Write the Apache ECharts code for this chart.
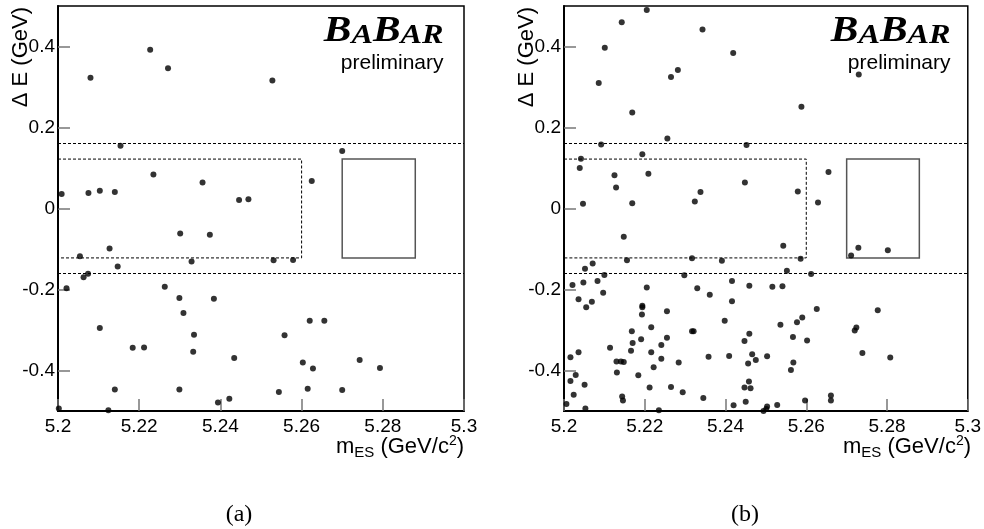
<!DOCTYPE html>
<html><head><meta charset="utf-8">
<script src="https://cdn.jsdelivr.net/npm/echarts@6/dist/echarts.min.js"></script>
<style>html,body{margin:0;padding:0;background:#fff;}#c{width:984px;height:529px;}</style>
</head><body><div id="c"></div>
<script>
// ---- Data ----
// Panel (a): mES [GeV/c^2] and Delta E [GeV]
const aMes = [5.2227,5.2271,5.2080,5.2528,5.2154,5.2700,5.2009,5.2075,5.2103,5.2140,5.2235,5.2356,5.2446,5.2469,5.2625,5.2301,5.2374,5.2127,5.2054,5.2329,5.2531,5.2579,5.2147,5.2063,5.2074,5.2021,5.2263,5.2299,5.2384,5.2309,5.2620,5.2656,5.2103,5.2335,5.2558,5.2184,5.2212,5.2333,5.2434,5.2603,5.2628,5.2743,5.2793,5.2140,5.2299,5.2394,5.2422,5.2002,5.2124,5.2544,5.2615,5.2700];
const aDE  = [0.392,0.346,0.323,0.316,0.155,0.142,0.036,0.038,0.044,0.041,0.084,0.064,0.021,0.023,0.068,-0.062,-0.065,-0.099,-0.118,-0.131,-0.128,-0.127,-0.143,-0.170,-0.161,-0.197,-0.193,-0.221,-0.223,-0.258,-0.277,-0.277,-0.295,-0.312,-0.313,-0.344,-0.343,-0.354,-0.369,-0.380,-0.395,-0.374,-0.394,-0.447,-0.447,-0.479,-0.470,-0.494,-0.498,-0.453,-0.445,-0.448];
// Panel (b)
const bMes = [5.2205,5.2143,5.2343,5.2101,5.2419,5.2086,5.2265,5.2282,5.2730,5.2588,5.2169,5.2256,5.2092,5.2452,5.2194,5.2042,5.2039,5.2125,5.2209,5.2655,5.2129,5.2338,5.2448,5.2579,5.2047,5.2169,5.2324,5.2629,5.2148,5.2543,5.2729,5.2802,5.2711,5.2586,5.2156,5.2317,5.2391,5.2071,5.2052,5.2100,5.2298,5.2552,5.2612,5.2021,5.2048,5.2083,5.2416,5.2205,5.2330,5.2459,5.2516,5.2541,5.2361,5.2097,5.2036,5.2069,5.2055,5.2416,5.2194,5.2194,5.2193,5.2255,5.2626,5.2777,5.2398,5.2590,5.2577,5.2536,5.2724,5.2720,5.2216,5.2168,5.2317,5.2321,5.2459,5.2447,5.2567,5.2602,5.2255,5.2191,5.2170,5.2241,5.2114,5.2166,5.2036,5.2216,5.2016,5.2358,5.2409,5.2241,5.2739,5.2808,5.2466,5.2475,5.2456,5.2503,5.2568,5.2562,5.2130,5.2141,5.2148,5.2284,5.2222,5.2131,5.2029,5.2184,5.2016,5.2051,5.2212,5.2265,5.2294,5.2024,5.2144,5.2146,5.2345,5.2006,5.2053,5.2235,5.2420,5.2450,5.2447,5.2462,5.2458,5.2494,5.2503,5.2501,5.2528,5.2597,5.2661,5.2661];
const bDE  = [0.490,0.460,0.442,0.397,0.384,0.310,0.325,0.342,0.331,0.251,0.237,0.173,0.158,0.157,0.134,0.123,0.100,0.082,0.086,0.090,0.052,0.041,0.064,0.042,0.012,0.013,0.017,0.015,-0.070,-0.092,-0.097,-0.103,-0.116,-0.124,-0.128,-0.123,-0.129,-0.136,-0.149,-0.164,-0.165,-0.154,-0.162,-0.189,-0.183,-0.179,-0.179,-0.195,-0.197,-0.191,-0.193,-0.192,-0.213,-0.208,-0.224,-0.230,-0.244,-0.229,-0.240,-0.244,-0.262,-0.254,-0.248,-0.251,-0.277,-0.269,-0.281,-0.287,-0.294,-0.301,-0.293,-0.303,-0.303,-0.303,-0.309,-0.327,-0.317,-0.326,-0.319,-0.323,-0.332,-0.337,-0.344,-0.351,-0.355,-0.355,-0.367,-0.366,-0.364,-0.371,-0.357,-0.368,-0.360,-0.374,-0.383,-0.365,-0.380,-0.399,-0.378,-0.378,-0.379,-0.380,-0.392,-0.405,-0.411,-0.412,-0.426,-0.435,-0.442,-0.441,-0.454,-0.460,-0.464,-0.474,-0.468,-0.483,-0.494,-0.498,-0.486,-0.477,-0.442,-0.444,-0.427,-0.500,-0.489,-0.495,-0.485,-0.474,-0.462,-0.474];
// Axis ticks and region boundaries
const xTickValues = [5.2, 5.22, 5.24, 5.26, 5.28, 5.3];
const yTickValues = [-0.4, -0.2, 0, 0.2, 0.4];
const xRange = [5.2, 5.3];
const yRange = [-0.5, 0.5];
const dEBandLines = [-0.164, 0.164];
const sidebandBoxMes = [5.2, 5.26];
const sidebandBoxDE = [-0.122, 0.122];
const signalBoxMes = [5.27, 5.288];
const signalBoxDE = [-0.122, 0.122];
const panelLabels = ['(a)', '(b)'];

const FONT = 'Liberation Sans, Arial, Helvetica, sans-serif';
const SERIF = 'Liberation Serif, Times New Roman, serif';
const grids = [
  {left: 58, top: 6, width: 406, height: 405},
  {left: 564, top: 6, width: 407, height: 405}
];

function zip(xs, ys) { return xs.map((x, i) => [x, ys[i]]); }

function xAxis(gi) {
  return {
    type: 'value', gridIndex: gi, min: xRange[0], max: xRange[1], interval: 0.02,
    axisLine: {show: true, onZero: false, lineStyle: {color: '#000', width: 2}},
    axisTick: {show: true, inside: true, length: 12, customValues: xTickValues, lineStyle: {color: '#777', width: 1.5}},
    axisLabel: {show: true, customValues: xTickValues, margin: 6, fontSize: 19, color: '#000', fontFamily: FONT,
      formatter: v => String(+(+v).toFixed(2))},
    splitLine: {show: false}
  };
}
function yAxis(gi) {
  return {
    type: 'value', gridIndex: gi, min: yRange[0], max: yRange[1],
    axisLine: {show: true, onZero: false, lineStyle: {color: '#000', width: 2}},
    axisTick: {show: true, inside: true, length: 12, customValues: yTickValues, lineStyle: {color: '#777', width: 1.5}},
    axisLabel: {show: true, customValues: yTickValues, margin: 3, fontSize: 19, color: '#000', fontFamily: FONT,
      formatter: v => (Math.abs(v) < 1e-9 ? '0' : (+v).toFixed(1))},
    splitLine: {show: false}
  };
}
function series(gi, xs, ys) {
  return {
    type: 'scatter', xAxisIndex: gi, yAxisIndex: gi,
    data: zip(xs, ys), symbol: 'circle', symbolSize: 6,
    itemStyle: {color: '#000'}, z: 5, silent: true,
    markLine: {
      silent: true, symbol: ['none', 'none'], label: {show: false},
      lineStyle: {color: '#000', width: 1, type: [3, 2]},
      data: dEBandLines.map(v => ({yAxis: v}))
    },
    markArea: {
      silent: true, label: {show: false},
      data: [
        [{coord: [sidebandBoxMes[0], sidebandBoxDE[1]], itemStyle: {color: 'rgba(0,0,0,0)', borderColor: '#000', borderWidth: 1, borderType: [3, 2]}},
         {coord: [sidebandBoxMes[1], sidebandBoxDE[0]]}],
        [{coord: [signalBoxMes[0], signalBoxDE[1]], itemStyle: {color: 'rgba(0,0,0,0)', borderColor: '#555', borderWidth: 1.5}},
         {coord: [signalBoxMes[1], signalBoxDE[0]]}]
      ]
    }
  };
}

function panelGraphics(offset, frameRight, labelX, label) {
  return [
    {type: 'text', x: 21 + offset, y: 7, rotation: Math.PI / 2,
      style: {text: 'Δ E (GeV)', font: '22px ' + FONT, fill: '#000', align: 'right', verticalAlign: 'middle'}},
    {type: 'text', x: frameRight, y: 447,
      style: {text: '{m|m}{s|ES}{m| (GeV/c}{p|2}{m|)}', align: 'right', verticalAlign: 'middle', fill: '#000',
        rich: {
          m: {fontSize: 22, fontFamily: FONT, lineHeight: 26, verticalAlign: 'middle'},
          s: {fontSize: 15, fontFamily: FONT, lineHeight: 14, verticalAlign: 'bottom'},
          p: {fontSize: 14, fontFamily: FONT, lineHeight: 14, verticalAlign: 'top'}
        }}},
    {type: 'text', x: frameRight - 20.5, y: 50, scaleX: 1.15,
      style: {text: '{b|B}{s|A}{b|B}{s|AR}', align: 'right', verticalAlign: 'bottom', fill: '#000',
        rich: {
          b: {fontSize: 36, fontFamily: SERIF, fontStyle: 'italic', fontWeight: 'bold', lineHeight: 36, verticalAlign: 'bottom'},
          s: {fontSize: 28, fontFamily: SERIF, fontStyle: 'italic', fontWeight: 'bold', lineHeight: 29, verticalAlign: 'bottom'}
        }}},
    {type: 'text', x: frameRight - 20.5, y: 63,
      style: {text: 'preliminary', font: '21px ' + FONT, fill: '#000', align: 'right', verticalAlign: 'middle'}},
    {type: 'text', x: labelX, y: 515,
      style: {text: label, font: '24px ' + SERIF, fill: '#000', align: 'center', verticalAlign: 'middle'}}
  ];
}

const chart = echarts.init(document.getElementById('c'), null, {renderer: 'canvas'});
chart.setOption({
  animation: false,
  backgroundColor: '#fff',
  grid: grids.map(g => Object.assign({show: true, borderColor: '#000', borderWidth: 1.5, backgroundColor: 'transparent', containLabel: false}, g)),
  xAxis: [xAxis(0), xAxis(1)],
  yAxis: [yAxis(0), yAxis(1)],
  series: [series(0, aMes, aDE), series(1, bMes, bDE)],
  graphic: [].concat(panelGraphics(0, 464, 239, panelLabels[0]), panelGraphics(506, 971, 745, panelLabels[1]))
});
</script></body></html>
